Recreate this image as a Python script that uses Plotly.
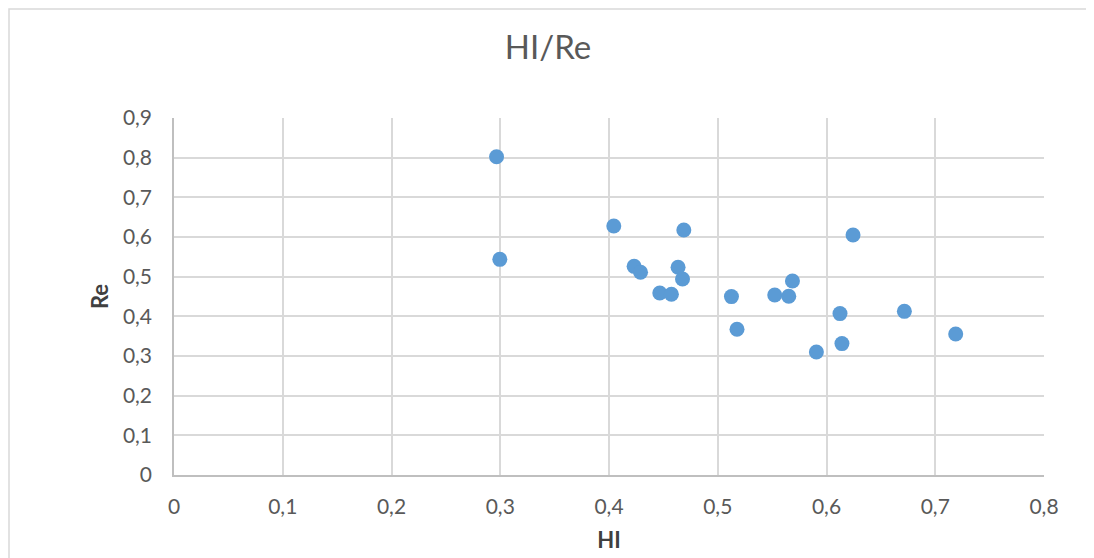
import plotly.graph_objects as go

hi = [0.2966, 0.2996, 0.4044, 0.4231, 0.4290, 0.4467, 0.4574, 0.4688, 0.4635, 0.4676,
      0.5126, 0.5177, 0.5524, 0.5653, 0.5687, 0.5907, 0.6124, 0.6142, 0.6244, 0.6716, 0.7188]
re = [0.8023, 0.5437, 0.6277, 0.5260, 0.5110, 0.4588, 0.4555, 0.6176, 0.5236, 0.4940,
      0.4497, 0.3673, 0.4537, 0.4505, 0.4890, 0.3100, 0.4069, 0.3312, 0.6050, 0.4126, 0.3554]

x_ticks = [0, 0.1, 0.2, 0.3, 0.4, 0.5, 0.6, 0.7, 0.8]
x_labels = ["0", "0,1", "0,2", "0,3", "0,4", "0,5", "0,6", "0,7", "0,8"]
y_ticks = [0, 0.1, 0.2, 0.3, 0.4, 0.5, 0.6, 0.7, 0.8, 0.9]
y_labels = ["0", "0,1", "0,2", "0,3", "0,4", "0,5", "0,6", "0,7", "0,8", "0,9"]

FONT = "Lato"
GRID = "#D9D9D9"
TXT = "#595959"

# the page body has an 8px margin; figure is sized so the plot lands where the reference has it
W, H = 1086, 550
L, T, R, B = 166, 110, 50, 83
PW, PH = W - L - R, H - T - B

fig = go.Figure(go.Scatter(
    x=hi, y=re, mode="markers",
    marker=dict(color="#5B9BD5", size=15, line=dict(width=0)),
    hoverinfo="x+y",
))

fig.update_layout(
    width=W, height=H,
    margin=dict(l=L, r=R, t=T, b=B, autoexpand=False),
    paper_bgcolor="white", plot_bgcolor="white",
    showlegend=False,
    title=dict(text="HI/Re", x=(548 - 8) / W, xref="container", xanchor="center",
               y=1 - 39 / H, yref="container", yanchor="middle",
               font=dict(family=FONT, size=33, color=TXT)),
    font=dict(family=FONT, size=21, color=TXT),
    shapes=[dict(type="rect", xref="paper", yref="paper",
                 x0=(1 - L) / PW, x1=(W - 2 - L) / PW,
                 y0=-(B + 20) / PH, y1=(H - 1 - B) / PH,
                 line=dict(color="#D9D9D9", width=1.5), layer="below")],
)

fig.update_xaxes(
    range=[0, 0.8], tickvals=x_ticks, ticktext=x_labels,
    showgrid=True, gridcolor=GRID, gridwidth=1.5,
    showline=True, linecolor="#BFBFBF", linewidth=1.5, mirror=False,
    zeroline=False, ticks="", ticklabelstandoff=12, automargin=False,
    tickfont=dict(family=FONT, size=21, color=TXT),
    title=dict(text="<b>HI</b>", standoff=16,
               font=dict(family=FONT, size=22, color="#404040")),
)
fig.update_yaxes(
    range=[0, 0.9], tickvals=y_ticks, ticktext=y_labels,
    showgrid=True, gridcolor=GRID, gridwidth=1.5,
    showline=True, linecolor="#BFBFBF", linewidth=1.5,
    zeroline=False, ticks="", ticklabelstandoff=16, automargin=False,
    tickfont=dict(family=FONT, size=21, color=TXT),
    title=dict(text="<b>Re</b>", standoff=8,
               font=dict(family=FONT, size=22, color="#404040")),
)

fig.write_html("out.html")
